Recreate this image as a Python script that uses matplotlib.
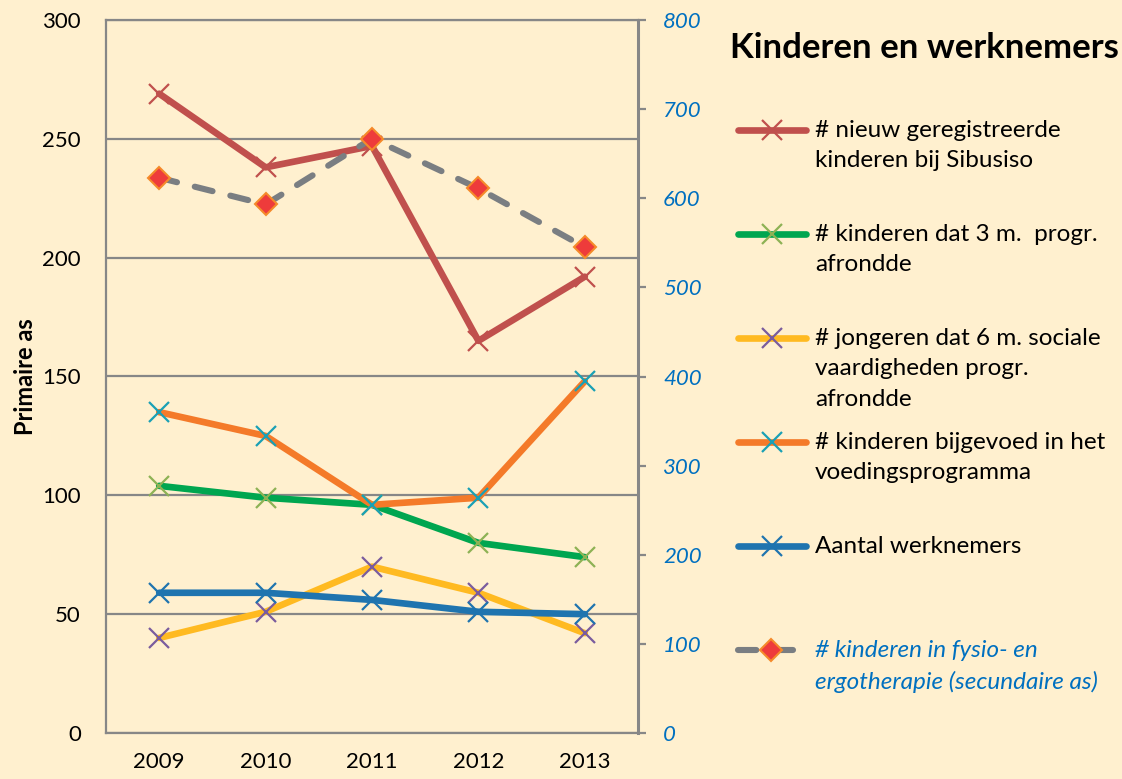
import matplotlib.pyplot as plt
from matplotlib.lines import Line2D

plt.rcParams['font.family'] = ['Lato', 'DejaVu Sans']

years = ['2009', '2010', '2011', '2012', '2013']
nieuw = [269, 238, 247, 165, 192]
drie_maanden = [104, 99, 96, 80, 74]
zes_maanden = [40, 51, 70, 59, 42]
voeding = [135, 125, 96, 99, 148]
werknemers = [59, 59, 56, 51, 50]
fysio = [623, 593, 667, 611, 545]

labels = ['# nieuw geregistreerde\nkinderen bij Sibusiso',
          '# kinderen dat 3 m.  progr.\nafrondde',
          '# jongeren dat 6 m. sociale\nvaardigheden progr.\nafrondde',
          '# kinderen bijgevoed in het\nvoedingsprogramma',
          'Aantal werknemers',
          '# kinderen in fysio- en\nergotherapie (secundaire as)']

bg = '#FFF0CF'
grey = '#878787'
blue_txt = '#0070C0'

fig = plt.figure(figsize=(11.22, 7.79), dpi=100, facecolor=bg)
ax = fig.add_axes([106/1122, 1 - 733/779, 532/1122, 713/779])
ax.set_facecolor(bg)

x = range(len(years))
series = [
    (nieuw, '#C0504D', '#C0504D'),
    (drie_maanden, '#00A650', '#8DB255'),
    (zes_maanden, '#FFBA21', '#7A5C9E'),
    (voeding, '#F47A29', '#1AA0B5'),
    (werknemers, '#1F74AF', '#1F74AF'),
]
for vals, lc, mc in series:
    ax.plot(x, vals, color=lc, lw=4.8, solid_capstyle='round', zorder=3)
    ax.plot(x, vals, ls='none', marker='x', ms=14, mew=1.6, color=mc, zorder=4)

ax.set_xlim(-0.5, 4.5)
ax.set_ylim(0, 300)
ax.set_yticks(range(0, 301, 50))
ax.set_xticks(list(x))
ax.set_xticklabels(years)
ax.yaxis.grid(True, color=grey, lw=1.6, zorder=0)
ax.set_axisbelow(True)
ax.tick_params(axis='both', length=0, labelsize=16)
ax.tick_params(axis='y', pad=18)
ax.tick_params(axis='x', pad=14)
for s in ['left', 'bottom', 'top']:
    ax.spines[s].set_color(grey)
    ax.spines[s].set_linewidth(1.6)
ax.spines['right'].set_visible(False)
ax.set_ylabel('Primaire as', fontsize=17, fontweight='bold', labelpad=4)

ax2 = ax.twinx()
ax2.plot(x, fysio, color='#7A7E82', lw=4.4, ls=(0, (3, 3)), dash_capstyle='round',
         marker='D', ms=11, mfc='#EE3B3B', mec='#F58A2A', mew=1.5, zorder=5)
ax2.set_ylim(0, 800)
ax2.set_yticks(range(0, 801, 100))
ax2.tick_params(axis='y', length=6, width=1.6, color=grey, pad=12,
                labelsize=16, labelcolor=blue_txt)
for t in ax2.get_yticklabels():
    t.set_fontstyle('italic')
ax2.spines['right'].set_color(grey)
ax2.spines['right'].set_linewidth(2.2)
for s in ['left', 'bottom', 'top']:
    ax2.spines[s].set_visible(False)

# legend drawn by hand to match the evenly spaced entries
fig.text(730/1122, 1 - 48/779, 'Kinderen en werknemers', fontsize=25,
         fontweight='bold', va='center', ha='left')
handles = [(c[1], c[2]) for c in series]
for i, lab in enumerate(labels):
    yc = 1 - (130 + 104*i)/779
    if i < 5:
        lc, mc = handles[i]
        fig.add_artist(Line2D([738/1122, 806/1122], [yc, yc], color=lc, lw=4.8,
                              solid_capstyle='round', transform=fig.transFigure))
        fig.add_artist(Line2D([772/1122], [yc], ls='none', marker='x', ms=14,
                              mew=1.6, color=mc, transform=fig.transFigure))
        col, sty = 'black', 'normal'
    else:
        fig.add_artist(Line2D([738/1122, 802/1122], [yc, yc], color='#7A7E82', lw=4.4,
                              ls=(0, (3, 3)), dash_capstyle='round',
                              transform=fig.transFigure))
        fig.add_artist(Line2D([771/1122], [yc], ls='none', marker='D', ms=11,
                              mfc='#EE3B3B', mec='#F58A2A', mew=1.5,
                              transform=fig.transFigure))
        col, sty = blue_txt, 'italic'
    fig.text(815/1122, yc + 10/779, lab, fontsize=17.5, color=col, style=sty,
             va='top', ha='left', linespacing=1.55)

fig.savefig('out.png', dpi=100, facecolor=bg)
